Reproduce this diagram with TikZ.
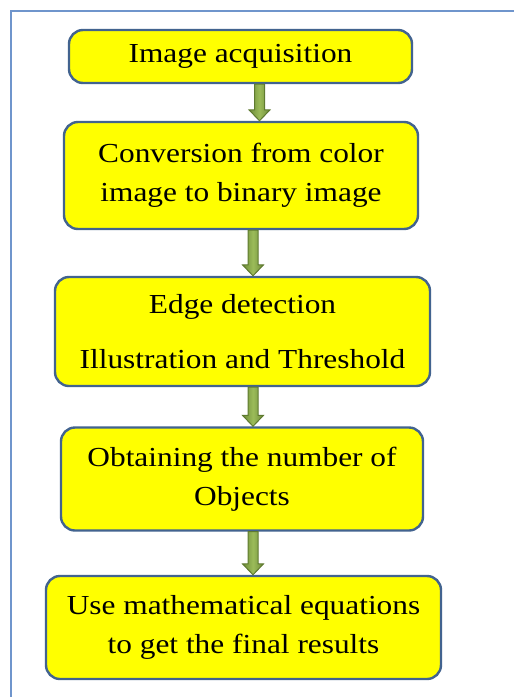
\documentclass[tikz,border=0pt]{standalone}
\usepackage{fontspec}
\setmainfont{Liberation Serif}[FakeStretch=1.14]
\usetikzlibrary{calc}

\definecolor{frameblue}{HTML}{6F95CC}
\definecolor{boxedge}{HTML}{42638F}
\definecolor{boxfill}{HTML}{FFFF00}
\definecolor{arrowdark}{HTML}{6E8C38}
\definecolor{arrowlight}{HTML}{9BBB59}
\definecolor{arrowedge}{HTML}{5F7A30}

\tikzset{
  stepbox/.style={draw=boxedge, line width=2.4pt, fill=boxfill,
    rounded corners=14pt, align=center, inner sep=0pt,
    font=\fontsize{27.5}{39}\selectfont},
  flowarrow/.style={draw=arrowedge, line width=1pt,
    left color=arrowdark, right color=arrowdark, middle color=arrowlight},
}

% downward block arrow from the bottom of #1 to the top of #2, shifted by #3
\newcommand\blockarrow[3]{%
  \draw[flowarrow] let \p1=($(#1.south)+(#3,0)$), \p2=($(#2.north)+(#3,0)$) in
    (\x1-5pt,\y1) -- (\x1-5pt,\y2+11pt) -- (\x1-10.5pt,\y2+11pt) --
    (\x1,\y2) -- (\x1+10.5pt,\y2+11pt) -- (\x1+5pt,\y2+11pt) --
    (\x1+5pt,\y1) -- cycle;}

\begin{document}
\begin{tikzpicture}[x=1pt,y=-1pt]
  \useasboundingbox (0,0) rectangle (514,697);
  \fill[white] (0,0) rectangle (514,697);

  % outer frame (top and left edges)
  \draw[frameblue, line width=2pt] (514,11) -- (11,11) -- (11,697);

  \node[stepbox, minimum width=343pt, minimum height=53pt] (b1) at (240.5,56.5)
    {Image acquisition};
  \node[stepbox, minimum width=354pt, minimum height=107pt] (b2) at (241,175.5)
    {Conversion from color\\image to binary image};
  \node[stepbox, minimum width=375pt, minimum height=109pt] (b3) at (242.5,331.5)
    {Edge detection\\[16pt]Illustration and Threshold};
  \node[stepbox, minimum width=362pt, minimum height=103pt] (b4) at (242,479)
    {Obtaining the number of\\Objects};
  \node[stepbox, minimum width=395pt, minimum height=103pt] (b5) at (243.5,627.5)
    {Use mathematical equations\\to get the final results};

  \blockarrow{b1}{b2}{19pt}
  \blockarrow{b2}{b3}{12pt}
  \blockarrow{b3}{b4}{10.5pt}
  \blockarrow{b4}{b5}{11pt}
\end{tikzpicture}
\end{document}
